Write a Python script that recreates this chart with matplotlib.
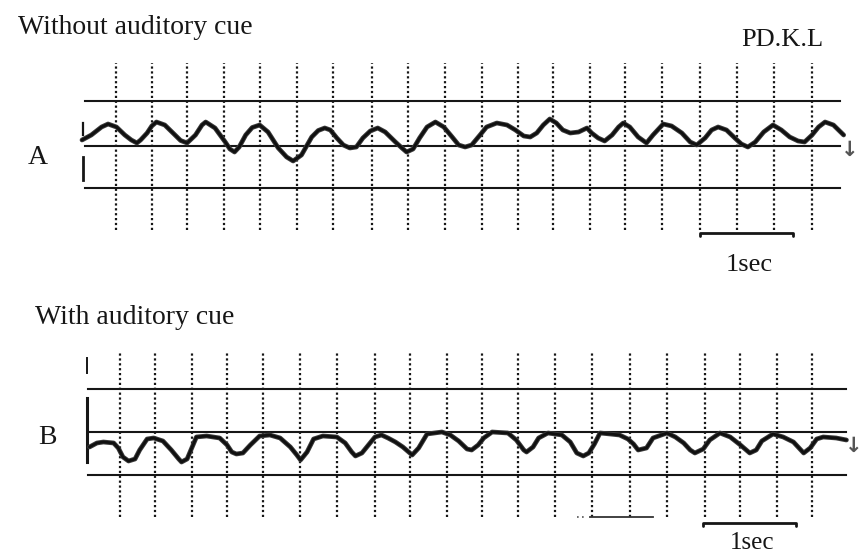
import matplotlib
matplotlib.use("Agg")
import matplotlib.pyplot as plt

# ---------------------------------------------------------------
# Gait trace recordings of patient PD.K.L, without / with auditory cue
# time in seconds, trace amplitude in arbitrary units
# ---------------------------------------------------------------

# Panel A: without auditory cue
a_time = [0.00, 0.10, 0.21, 0.28, 0.37, 0.46, 0.53, 0.59, 0.63, 0.70, 0.75, 0.80,
          0.89, 1.00, 1.06, 1.13, 1.22, 1.29, 1.33, 1.43, 1.54, 1.59, 1.64, 1.69,
          1.76, 1.83, 1.91, 2.00, 2.11, 2.20, 2.27, 2.36, 2.47, 2.54, 2.61, 2.67,
          2.74, 2.81, 2.88, 2.95, 3.02, 3.10, 3.18, 3.26, 3.37, 3.44, 3.49, 3.56,
          3.63, 3.71, 3.80, 3.89, 3.98, 4.05, 4.12, 4.19, 4.28, 4.35, 4.46, 4.57,
          4.66, 4.75, 4.82, 4.89, 4.96, 5.03, 5.10, 5.17, 5.25, 5.34, 5.43, 5.48,
          5.55, 5.62, 5.70, 5.77, 5.82, 5.89, 5.98, 6.07, 6.14, 6.25, 6.34, 6.45,
          6.54, 6.61, 6.70, 6.77, 6.84, 6.93, 7.02, 7.09, 7.16, 7.24, 7.33, 7.43,
          7.52, 7.61, 7.70, 7.77, 7.85, 7.92, 7.99, 8.08, 8.19]
a_value = [6, 11, 19, 22, 19, 11, 6, 3, 6, 13, 20, 24,
           21, 11, 5.5, 3, 11, 21, 24, 18, 4, -3, -6, -1,
           11, 18.5, 21, 14, -2, -11, -15, -9, 9, 15.5, 18, 16,
           8, 1, -2, -1, 8, 15, 18, 14, 4, -2, -6, -3,
           8, 19, 24, 19, 9, 1, -1, 1, 11, 19, 23, 21,
           16, 10, 9, 13, 21, 27, 23, 16, 13, 14, 18, 13,
           8, 5, 11, 19, 23, 19, 9, 3, 11, 22, 20, 13,
           4, 1, 8, 16, 19, 16, 8, 2, -1, 4, 14, 21,
           16, 9, 5, 4, 11, 19, 24, 21, 11]

# Panel B: with auditory cue
b_time = [0.08, 0.16, 0.23, 0.34, 0.39, 0.44, 0.50, 0.57, 0.62, 0.70, 0.77, 0.87,
          0.96, 1.04, 1.07, 1.13, 1.18, 1.23, 1.34, 1.48, 1.56, 1.61, 1.66, 1.73,
          1.81, 1.91, 2.02, 2.13, 2.24, 2.31, 2.35, 2.42, 2.49, 2.59, 2.74, 2.83,
          2.90, 2.94, 3.01, 3.08, 3.15, 3.22, 3.29, 3.37, 3.45, 3.55, 3.62, 3.71,
          3.87, 3.96, 4.05, 4.14, 4.19, 4.26, 4.32, 4.41, 4.58, 4.67, 4.75, 4.78,
          4.85, 4.91, 5.01, 5.16, 5.25, 5.32, 5.39, 5.45, 5.51, 5.57, 5.68, 5.78,
          5.87, 5.93, 5.98, 6.07, 6.14, 6.29, 6.38, 6.47, 6.54, 6.59, 6.68, 6.75,
          6.86, 6.97, 7.08, 7.18, 7.25, 7.31, 7.43, 7.54, 7.65, 7.76, 7.83, 7.90,
          7.97, 8.11, 8.22]
b_value = [-15, -11, -10, -11, -16, -25, -29, -27, -18, -7, -6, -9,
           -18, -27, -30, -27, -16, -5, -4, -6, -13, -20, -22, -21,
           -13, -4, -3, -6, -15, -23, -28, -20, -7, -4, -5, -11,
           -20, -24, -21, -13, -5, -3, -6, -10, -15, -23, -16, -2,
           0, -3, -9, -17, -18, -13, -6, 0, -1, -8, -18, -20,
           -15, -6, -1, -3, -10, -21, -24, -21, -12, -1, -2, -3,
           -7, -12, -18, -16, -6, -1, -5, -11, -18, -21, -17, -8,
           -1, -5, -13, -21, -18, -9, -2, -5, -10, -21, -16, -7,
           -5, -6, -8]

# chart-paper grid: time marks (s) and reference levels
a_marks = [0.362, 0.749, 1.129, 1.527, 1.914, 2.309, 2.699, 3.115, 3.509, 3.903,
           4.298, 4.691, 5.068, 5.462, 5.839, 6.240, 6.645, 7.040, 7.444, 7.846]
b_marks = [0.409, 0.785, 1.180, 1.562, 1.949, 2.344, 2.739, 3.151, 3.527, 3.922,
           4.298, 4.691, 5.086, 5.481, 5.892, 6.294, 6.699, 7.075, 7.470, 7.846]
a_levels = [45, 0, -42]
b_levels = [43, 0, -42.5]
a_mark_span = (-84, 83)
b_mark_span = (-85, 80)
a_level_span = (0.03, 8.15)
b_level_span = (0.065, 8.215)

# 1 s calibration bars
a_bar_start, a_bar_level = 6.64, -87
b_bar_start, b_bar_level = 6.68, -91
bar_length = 1.0

INK = "#161616"
SERIF = ["Liberation Serif", "DejaVu Serif"]

fig = plt.figure(figsize=(8.67, 5.58), dpi=100)
fig.patch.set_facecolor("white")

ax_a = fig.add_axes([0, 0.5, 1, 0.5])
ax_b = fig.add_axes([0, 0.0, 1, 0.5])
ax_a.set_xlim(-0.882, 8.441)
ax_a.set_ylim(-133, 146)
ax_b.set_xlim(-0.882, 8.441)
ax_b.set_ylim(-126, 153)


def draw_panel(ax, marks, mark_span, levels, level_span, t, v,
               bar_start, bar_level, label_drop, label_size):
    for m in marks:
        ax.plot([m, m], mark_span, color=INK, lw=1.6,
                linestyle=(0, (1.0, 1.2)), solid_capstyle="butt", zorder=1)
    for lv in levels:
        ax.plot(level_span, [lv, lv], color=INK, lw=1.5, zorder=2)
    ax.plot(t, v, color="#3a3a3a", lw=3.4, solid_joinstyle="round",
            solid_capstyle="round", zorder=3)
    ax.plot(t, v, color="#101010", lw=2.0, solid_joinstyle="round",
            solid_capstyle="round", zorder=4)
    # calibration bar with hooked ends
    bx = [bar_start, bar_start, bar_start + bar_length, bar_start + bar_length]
    by = [bar_level - 3, bar_level, bar_level, bar_level - 3]
    ax.plot(bx, by, color=INK, lw=2.0, solid_capstyle="round",
            solid_joinstyle="round", zorder=3)
    ax.text(bar_start + bar_length / 2 + 0.03, bar_level - label_drop, "1sec",
            family=SERIF, fontsize=label_size, ha="center", va="baseline",
            color=INK)
    ax.set_axis_off()


draw_panel(ax_a, a_marks, a_mark_span, a_levels, a_level_span,
           a_time, a_value, a_bar_start, a_bar_level, 38, 19)
draw_panel(ax_b, b_marks, b_mark_span, b_levels, b_level_span,
           b_time, b_value, b_bar_start, b_bar_level, 26, 18)

# start-of-record marks on the left edge
ax_a.plot([0.01, 0.01], [11, 23], color=INK, lw=1.6)
ax_a.plot([0.01, 0.01], [-34, -11], color=INK, lw=2.0)
ax_b.plot([0.05, 0.05], [59, 74], color=INK, lw=1.4)
ax_b.plot([0.05, 0.05], [-30, 34], color=INK, lw=2.2)
ax_b.plot([0.05, 0.08], [-15, -15], color=INK, lw=2.0)

# stray marks on the lower trace sheet
ax_b.plot([5.46, 6.14], [-85, -85], color="#333333", lw=1.3)
ax_b.plot([5.32, 5.40], [-85, -85], color="#555555", lw=1.2,
          linestyle=(0, (1, 2)))

# end-of-record arrows
for ax, ax_t, ax_v in [(ax_a, 8.26, -4), (ax_b, 8.30, -14)]:
    ax.text(ax_t, ax_v, "\u2193", family=["DejaVu Sans"], fontsize=15,
            ha="center", va="center", color="#555555", fontweight="bold")

# labels
ax_a.text(-0.688, 118, "Without auditory cue", family=SERIF, fontsize=20,
          ha="left", va="center", color=INK)
ax_a.text(7.086, 106, "PD.K.L", family=SERIF, fontsize=19,
          ha="left", va="center", color=INK)
ax_a.text(-0.473, -11, "A", family=SERIF, fontsize=20,
          ha="center", va="center", color=INK)
ax_b.text(-0.505, 114, "With auditory cue", family=SERIF, fontsize=20,
          ha="left", va="center", color=INK)
ax_b.text(-0.376, -6, "B", family=SERIF, fontsize=20,
          ha="center", va="center", color=INK)

fig.savefig("out.png", dpi=100, facecolor="white")
